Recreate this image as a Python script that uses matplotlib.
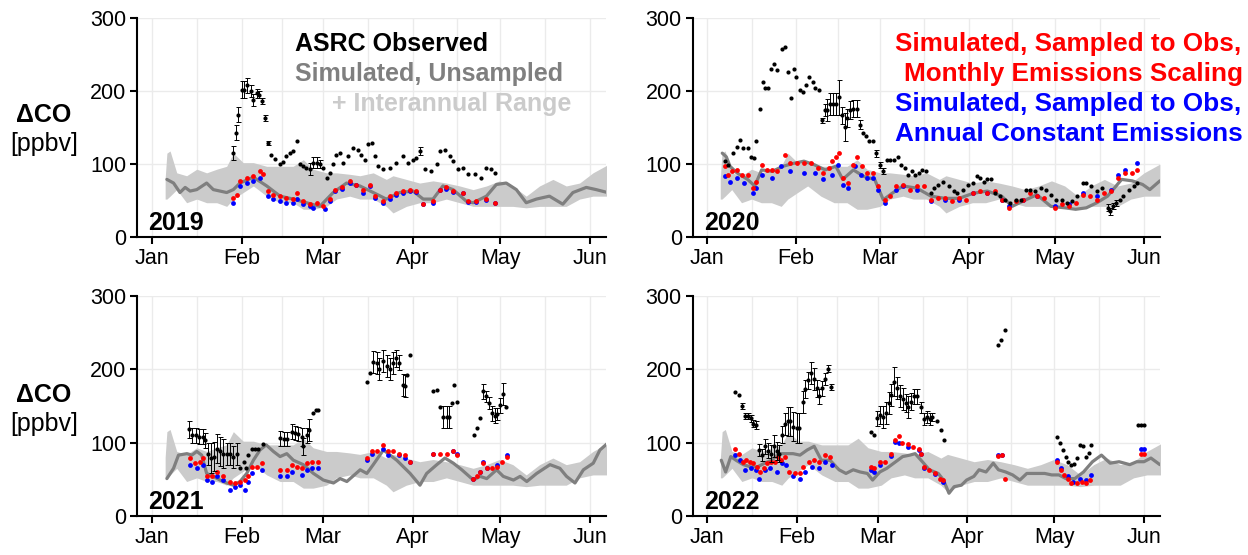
import numpy as np
import matplotlib

matplotlib.use("Agg")  # no display
import matplotlib.pyplot as plt

plt.rcParams["font.family"] = ["Liberation Sans", "DejaVu Sans"]

W, H = 1248, 555
YEARS = [2019, 2020, 2021, 2022]
MONTHS = ["Jan", "Feb", "Mar", "Apr", "May", "Jun"]

# all x values are days since Jan 1 of the panel's year

# interannual range of the unsampled simulation (same in every panel)
band_day = [4.6, 5.2, 6.3, 8.6, 12.0, 15.5, 18.9, 22.4, 25.8, 28.1, 31.5, 35.0, 39.6, 44.2,
            48.7, 52.2, 55.6, 60.2, 63.6, 68.2, 71.7, 76.3, 80.8, 83.1, 87.7, 92.3, 96.9,
            101.5, 106.1, 110.7, 115.3, 119.8, 124.4, 129.0, 133.6, 138.2, 142.8, 147.4,
            152.0, 157.5]
band_hi = [80, 115, 118, 88, 84, 93, 88, 93, 97, 115, 102, 102, 97, 97, 97, 106, 93, 88, 88,
           86, 84, 88, 79, 84, 79, 74, 77, 74, 70, 65, 70, 77, 70, 56, 70, 79, 70, 74, 88, 100]
band_lo = [52, 52, 56, 65, 47, 52, 47, 47, 42, 52, 61, 70, 56, 47, 47, 38, 38, 42, 52, 56, 52,
           52, 42, 33, 42, 47, 47, 52, 47, 42, 42, 42, 42, 40, 42, 42, 42, 52, 56, 56]

# ---- 2019 ----
uns_day_2019 = [5.2, 7.5, 9.7, 11.5, 13.2, 15.5, 18.9, 21.2, 23.5, 25.8, 28.1, 30.4, 35.0, 39.6,
                44.2, 48.7, 53.3, 57.9, 62.5, 67.1, 71.7, 76.3, 80.8, 85.4, 90.0, 93.5, 96.9,
                100.3, 103.8, 108.4, 110.7, 115.3, 118.7, 122.1, 125.6, 129.0, 132.5, 137.0,
                141.6, 145.1, 149.7, 153.1, 157.0]
uns_2019 = [79, 74, 61, 68, 63, 65, 74, 65, 63, 61, 65, 74, 82, 70, 56, 52, 47, 42, 61, 74, 70,
            61, 52, 61, 63, 52, 52, 70, 65, 49, 47, 56, 72, 74, 65, 47, 52, 56, 45, 61, 68, 65, 61]
red_day_2019 = [28.1, 29.2, 30.4, 32.7, 35.0, 37.3, 38.4, 40.1, 41.9, 44.2, 46.4, 48.7, 49.9,
                52.2, 54.5, 56.8, 59.1, 61.4, 63.1, 65.4, 68.2, 70.5, 72.8, 75.1, 76.8, 79.7,
                82.0, 84.3, 86.6, 88.9, 91.2, 93.5, 96.9, 99.2, 101.5, 103.8, 107.2, 108.9,
                111.8, 115.3, 118.1]
red_2019 = [54, 58, 77, 81, 84, 90, 86, 63, 58, 56, 54, 52, 61, 49, 45, 47, 42, 52, 65, 68, 77,
            72, 65, 72, 56, 49, 56, 61, 63, 65, 63, 45, 49, 65, 68, 63, 61, 49, 49, 52, 47]
blue_day_2019 = [28.1, 30.4, 32.7, 35.0, 37.3, 40.1, 41.9, 44.2, 46.4, 48.7, 49.9, 52.2, 54.5,
                 55.6, 59.6, 61.4, 63.1, 65.4, 68.2, 70.5, 72.8, 75.1, 76.8, 79.7, 82.0, 84.3,
                 86.6, 88.9, 91.2, 93.5, 96.9, 99.2, 101.5, 103.8, 107.2, 108.9, 111.8, 115.3,
                 118.1]
blue_2019 = [47, 70, 74, 77, 81, 56, 52, 49, 47, 47, 52, 45, 42, 40, 38, 50, 63, 66, 74, 72, 61,
             70, 54, 47, 52, 58, 60, 63, 62, 45, 47, 65, 66, 62, 61, 48, 48, 51, 46]
obs_day_2019 = [28.1, 29.0, 29.8, 31.0, 31.8, 32.9, 34.1, 35.0, 36.1, 37.0, 38.1, 39.0, 39.9,
                41.1, 42.4, 44.2, 45.3, 46.4, 47.6, 48.7, 49.9, 51.0, 52.2, 53.3, 54.5, 55.6,
                56.8, 57.9, 59.1, 60.2, 61.4, 62.5, 63.6, 64.8, 65.9, 67.7, 69.4, 71.1, 72.2,
                73.4, 74.5, 75.7, 76.8, 78.0, 79.7, 82.0, 84.3, 86.6, 88.3, 90.0, 91.2, 92.3,
                94.0, 96.3, 98.1, 99.2, 100.9, 102.6, 103.8, 105.5, 107.2, 108.9, 111.2, 113.5,
                115.3, 117.0, 118.1]
obs_2019 = [115, 143, 168, 202, 202, 208, 200, 188, 197, 195, 186, 163, 129, 112, 107, 100, 103,
            111, 115, 118, 131, 100, 97, 95, 93, 102, 102, 100, 95, 81, 88, 100, 113, 115, 102,
            111, 122, 120, 113, 106, 127, 129, 111, 97, 93, 95, 102, 111, 102, 106, 109, 118,
            93, 90, 100, 118, 120, 111, 104, 93, 95, 86, 86, 81, 95, 93, 88]
err_day_2019 = [28.1, 29.0, 29.8, 31.0, 31.8, 32.9, 34.1, 35.0, 36.1, 37.0, 38.1, 39.0, 39.9,
                54.5, 55.6, 56.8, 57.9, 92.3]
err_2019 = [10, 10, 10, 12, 12, 10, 8, 8, 6, 5, 4, 4, 3, 8, 8, 8, 6, 5]

# ---- 2020 ----
uns_day_2020 = [5.3, 6.7, 8.0, 10.4, 14.1, 16.6, 19.0, 22.7, 26.4, 30.1, 33.7, 37.4, 41.1, 44.8,
                47.2, 50.9, 54.6, 58.3, 61.3, 64.4, 68.1, 73.0, 77.9, 82.8, 87.7, 92.6, 97.5,
                102.5, 106.1, 109.8, 114.7, 119.6, 124.5, 128.2, 131.9, 135.6, 139.3, 144.2,
                147.9, 151.5, 154.0, 157.5]
uns_2020 = [115, 110, 97, 88, 79, 70, 92, 90, 97, 101, 104, 99, 92, 97, 79, 92, 83, 79, 51, 60,
            70, 67, 56, 53, 53, 60, 63, 56, 42, 49, 58, 42, 40, 38, 40, 47, 56, 79, 77, 72, 65, 77]
red_day_2020 = [6.1, 7.4, 8.6, 10.4, 12.3, 14.1, 16.0, 17.2, 19.0, 20.9, 22.7, 24.5, 27.0, 28.8,
                31.3, 33.7, 36.2, 38.7, 40.5, 42.3, 43.6, 44.8, 46.0, 47.2, 49.1, 50.9, 52.1,
                54.0, 55.8, 57.7, 59.5, 62.0, 63.8, 65.6, 68.1, 70.6, 73.0, 75.5, 77.9, 80.4,
                82.8, 85.3, 87.7, 90.2, 92.6, 95.1, 97.5, 100.0, 102.5, 104.9, 107.4, 109.8,
                112.3, 114.7, 117.2, 120.9, 123.3, 125.8, 128.2, 130.7, 133.1, 135.6, 138.0,
                140.5, 142.9, 145.4, 147.9, 149.7]
red_2020 = [97, 85, 90, 92, 85, 85, 67, 76, 99, 92, 92, 90, 113, 101, 101, 101, 101, 95, 88, 95,
            104, 110, 115, 81, 74, 99, 110, 97, 88, 88, 70, 51, 56, 70, 72, 65, 70, 70, 51, 53,
            53, 49, 53, 51, 60, 63, 60, 63, 51, 40, 49, 51, 60, 56, 53, 40, 45, 42, 47, 58, 56,
            51, 60, 63, 81, 88, 88, 92]
blue_day_2020 = [6.1, 8.0, 10.4, 12.9, 16.0, 17.2, 19.0, 22.7, 25.8, 28.8, 33.7, 37.4, 40.5,
                 43.6, 45.4, 47.2, 49.1, 51.5, 53.4, 55.8, 57.7, 59.5, 62.0, 65.6, 68.1, 73.0,
                 77.9, 82.8, 87.7, 92.6, 97.5, 102.5, 104.9, 109.8, 114.7, 120.9, 125.8, 130.7,
                 135.6, 140.5, 142.9, 145.4, 149.7]
blue_2020 = [83, 76, 81, 74, 60, 67, 85, 81, 97, 90, 88, 88, 79, 85, 99, 72, 67, 97, 85, 81, 81,
             65, 47, 65, 70, 65, 49, 51, 51, 60, 60, 51, 42, 51, 56, 42, 45, 60, 56, 65, 85, 92,
             101]
obs_day_2020 = [6.1, 7.4, 9.2, 10.4, 11.4, 12.6, 14.1, 15.3, 16.3, 17.2, 18.4, 19.4, 20.2, 21.2,
                22.1, 23.3, 24.5, 26.1, 27.0, 28.2, 29.2, 30.1, 31.0, 32.5, 33.5, 34.4, 35.6,
                36.8, 37.7, 38.9, 39.9, 40.9, 41.8, 42.9, 43.8, 44.8, 46.0, 47.0, 48.0, 48.7,
                49.7, 50.9, 52.1, 53.1, 54.1, 55.2, 56.4, 57.7, 58.9, 60.1, 61.3, 62.6,
                63.8, 65.0, 66.3, 67.5, 68.7, 69.9, 71.2, 72.4, 73.6, 74.8, 76.1, 77.9, 79.1,
                80.4, 82.2, 84.0, 85.9, 87.1, 89.0, 90.8, 92.6, 93.9, 95.1, 96.3, 97.5, 98.8,
                100.0, 101.8, 103.7, 105.5, 107.4, 109.2, 111.0, 112.3, 114.1, 116.0, 117.8,
                119.6, 121.5, 123.3, 125.2, 127.0, 128.8, 130.7, 131.9, 133.7, 135.6, 137.4,
                139.3, 140.2, 141.1, 142.3, 143.6, 144.8, 146.6, 148.5, 149.7]
obs_2020 = [104, 99, 115, 124, 133, 122, 122, 110, 108, 131, 176, 213, 204, 204, 231, 237, 229,
            258, 261, 226, 190, 230, 220, 201, 199, 208, 220, 213, 204, 201, 160, 174, 174, 183,
            183, 183, 192, 167, 151, 163, 174, 176, 176, 154, 142, 138, 131, 131, 115, 99, 90,
            106,
            106, 106, 110, 99, 95, 85, 90, 85, 88, 92, 90, 60, 67, 72, 76, 70, 63, 60, 65, 72,
            74, 83, 81, 76, 79, 79, 60, 56, 51, 47, 51, 51, 65, 65, 63, 67, 65, 58, 51, 51, 47,
            49, 56, 74, 74, 70, 63, 67, 40, 35, 42, 47, 51, 56, 65, 70, 74]
err_day_2020 = [39.9, 40.9, 41.8, 42.9, 43.8, 44.8, 46.0, 47.0, 48.0, 48.7, 49.7, 50.9, 52.1,
                53.1, 58.9, 60.1, 61.3, 139.3, 140.2, 141.1, 142.3]
err_2020 = [3, 8, 15, 15, 15, 15, 24, 12, 19, 12, 12, 12, 12, 6, 5, 4, 4, 5, 5, 4, 4]

# ---- 2021 ----
uns_day_2021 = [5.2, 7.5, 9.2, 12.1, 13.8, 15.5, 17.2, 18.9, 21.2, 23.5, 25.8, 28.1, 30.4, 32.7,
                35.0, 37.3, 39.4, 41.9, 44.2, 46.5, 48.8, 52.2, 55.7, 59.1, 62.6, 64.9, 67.2,
                71.8, 74.1, 76.3, 79.8, 82.1, 84.4, 86.7, 89.0, 92.4, 94.7, 98.2, 101.0, 103.9,
                106.8, 110.8, 113.1, 115.4, 118.8, 121.1, 124.6, 126.9, 129.2, 132.6, 137.2,
                140.6, 142.9, 145.8, 148.7, 152.1, 154.4, 157.0]
uns_2021 = [51, 65, 83, 85, 83, 88, 83, 58, 54, 49, 45, 42, 47, 58, 76, 90, 97, 88, 81, 85, 76,
            70, 58, 49, 45, 51, 47, 63, 58, 70, 90, 83, 76, 67, 58, 42, 58, 70, 79, 72, 63, 49,
            54, 51, 63, 54, 49, 54, 47, 58, 70, 65, 54, 45, 63, 72, 90, 99]
red_day_2021 = [13.2, 14.9, 16.6, 17.8, 18.9, 20.7, 22.4, 24.7, 27.0, 28.7, 30.4, 32.1, 33.3,
                34.4, 36.2, 37.9, 44.2, 46.5, 48.2, 49.9, 51.7, 53.4, 55.1, 57.4, 74.1, 75.8,
                77.5, 79.8, 81.5, 83.2, 85.0, 87.3, 89.0, 97.0, 99.3, 101.6, 103.9, 105.1,
                110.8, 111.9, 113.1, 114.2, 115.4, 117.1, 118.8, 120.6, 122.3]
red_2021 = [79, 72, 74, 79, 54, 54, 60, 54, 47, 45, 47, 49, 54, 67, 67, 72, 63, 63, 70, 67, 65,
            72, 74, 74, 79, 88, 88, 97, 88, 88, 85, 83, 74, 85, 84, 84, 88, 83, 51, 54, 60, 72,
            65, 65, 67, 74, 81]
blue_day_2021 = [13.2, 15.5, 17.8, 18.9, 20.7, 22.4, 24.7, 27.0, 28.7, 30.4, 32.1, 33.3, 34.4,
                 37.9, 44.2, 46.5, 48.2, 51.7, 53.4, 55.1, 57.4, 74.1, 75.8, 79.8, 81.5, 85.0,
                 87.3, 89.0, 97.0, 103.9, 105.1, 110.8, 113.1, 114.2, 115.4, 118.8, 122.3]
blue_2021 = [70, 65, 70, 49, 47, 54, 49, 36, 40, 42, 35, 47, 58, 63, 54, 54, 60, 56, 63, 65, 65,
             76, 85, 92, 83, 83, 79, 73, 85, 88, 84, 51, 60, 73, 65, 70, 83]
obs_day_2021 = [12.9, 14.0, 15.2, 16.3, 17.5, 18.4, 19.2, 20.3, 21.5, 22.4, 23.5, 24.7, 25.8,
                27.0, 28.1, 29.3, 30.4, 31.6, 32.5, 33.3, 34.4, 35.6, 36.7, 38.2, 44.2, 45.4,
                46.5, 48.2, 49.4, 50.5, 51.7, 52.2, 53.4, 54.3, 55.5, 56.6, 57.4, 74.1, 75.2,
                76.3, 77.5, 78.4, 79.8, 80.9, 82.1, 83.2, 84.2, 85.3, 86.5, 87.3, 88.1, 89.0,
                97.0, 98.2, 99.3, 100.5, 101.6, 102.5, 103.3, 104.1, 105.1, 111.0, 111.9, 113.1,
                114.2, 115.2, 116.2, 117.1, 118.3, 119.1, 120.0, 120.9, 122.0]
obs_2021 = [118, 110, 110, 108, 108, 103, 85, 79, 81, 92, 88, 85, 84, 85, 81, 85, 66, 73, 65, 83,
            92, 92, 91, 98, 106, 105, 105, 115, 113, 112, 108, 95, 110, 117, 140, 145, 145, 183,
            195, 210, 209, 201, 212, 205, 201, 208, 215, 209, 179, 177, 192, 220, 170, 172, 149,
            135, 135, 135, 154, 179, 156, 110, 120, 134, 170, 163, 154, 140, 137, 139, 151, 167,
            149]
err_day_2021 = [12.9, 14.0, 15.2, 16.3, 17.5, 18.4, 19.2, 20.3, 21.5, 22.4, 23.5, 24.7, 25.8,
                27.0, 28.1, 29.3, 44.2, 45.4, 46.5, 48.2, 49.4, 50.5, 51.7, 52.2, 53.4, 54.3,
                76.3, 77.5, 78.4, 79.8, 80.9, 82.1, 83.2, 84.2, 85.3, 86.5, 87.3, 100.5, 101.6,
                102.5, 114.2, 115.2, 116.2, 117.1, 118.3, 119.1, 120.0, 120.9]
err_2021 = [12, 10, 10, 10, 10, 10, 15, 20, 20, 20, 20, 20, 15, 15, 15, 15, 10, 10, 10, 10, 10,
            10, 12, 12, 10, 15, 15, 15, 15, 15, 15, 15, 15, 12, 10, 15, 15, 15, 15, 15, 10, 8, 8,
            10, 10, 8, 10, 15]

# ---- 2022 ----
uns_day_2022 = [4.9, 6.4, 8.2, 10.0, 12.5, 15.0, 17.4, 19.9, 22.3, 24.8, 27.2, 29.7, 32.1, 34.6,
                37.0, 39.5, 42.5, 45.6, 48.0, 50.5, 52.9, 55.4, 57.2, 59.7, 62.1, 65.2, 67.6,
                70.1, 71.9, 74.4, 76.8, 79.9, 81.7, 83.6, 85.4, 87.9, 89.7, 92.2, 94.0, 96.4,
                98.9, 100.7, 103.2, 105.6, 108.1, 110.5, 114.2, 116.7, 119.1, 121.6, 124.0,
                127.1, 130.1, 133.2, 136.3, 139.3, 142.4, 146.1, 148.5, 151.0, 153.4, 156.5]
uns_2022 = [76, 60, 81, 76, 70, 67, 67, 72, 76, 85, 85, 85, 83, 90, 95, 76, 76, 63, 58, 63, 60,
            58, 49, 60, 65, 74, 81, 83, 85, 74, 63, 58, 49, 31, 40, 42, 49, 54, 63, 60, 72, 63,
            60, 56, 49, 58, 58, 58, 56, 56, 51, 51, 60, 74, 83, 72, 74, 70, 74, 74, 79, 70]
red_day_2022 = [9.8, 11.0, 12.3, 13.5, 14.7, 15.9, 17.2, 18.4, 19.6, 20.8, 22.1, 23.3, 24.5,
                25.7, 27.0, 28.4, 30.3, 32.1, 33.3, 35.2, 37.0, 38.8, 40.7, 42.5, 56.6, 57.8,
                59.7, 61.5, 63.4, 65.0, 66.2, 67.4, 69.5, 71.3, 73.2, 74.0, 75.0, 76.8, 78.7,
                80.5, 81.7, 100.7, 102.0, 102.8, 121.0, 122.2, 123.4, 124.6, 125.9, 127.7, 129.5,
                131.1, 132.4, 149.8, 151.0]
red_2022 = [92, 85, 74, 76, 74, 72, 67, 60, 65, 72, 74, 74, 81, 76, 81, 60, 59, 59, 67, 74, 76,
            74, 83, 81, 67, 65, 74, 74, 85, 104, 109, 100, 98, 94, 92, 85, 67, 63, 58, 51, 49,
            82, 83, 51, 74, 63, 56, 51, 45, 45, 47, 45, 49, 85, 85]
blue_day_2022 = [9.8, 11.3, 13.1, 15.0, 16.8, 18.0, 19.9, 21.7, 24.1, 26.0, 27.2, 29.7, 32.1,
                 33.9, 36.4, 38.8, 40.7, 43.1, 56.6, 57.8, 59.7, 63.4, 65.0, 66.4, 69.5, 73.2,
                 74.0, 75.0, 78.7, 81.7, 100.7, 102.0, 121.0, 122.2, 124.6, 126.5, 128.9, 131.1,
                 132.8, 149.8, 151.0]
blue_2022 = [83, 76, 63, 65, 63, 50, 63, 65, 60, 72, 70, 54, 51, 60, 67, 65, 74, 70, 63, 60, 70,
             82, 101, 99, 94, 90, 85, 65, 57, 47, 83, 83, 76, 65, 54, 47, 51, 49, 56, 91, 91]
obs_day_2022 = [9.8, 11.0, 12.1, 13.1, 14.1, 15.0, 15.8, 16.8, 18.0, 19.0, 20.0, 21.1, 22.1,
                23.0, 24.0, 24.9, 25.9, 26.8, 27.8, 28.8, 29.7, 30.9, 31.9, 33.0, 33.8, 34.8,
                35.8, 36.8, 37.9, 38.8, 39.8, 40.9, 41.9, 42.9, 56.6, 57.8, 58.8, 59.8, 60.8,
                61.8, 62.7, 63.7, 64.7, 65.7, 66.7, 67.6, 68.6, 69.6, 70.6, 71.6, 72.5, 73.8,
                75.0, 76.0, 77.0, 77.9, 79.3, 80.9, 81.9, 100.7, 101.7, 102.8, 121.0, 121.9,
                122.9, 123.9, 124.9, 125.9, 126.8, 127.8, 128.8, 129.8, 131.0, 132.0, 132.8,
                148.8, 149.8, 151.0]
obs_2022 = [169, 165, 150, 136, 136, 133, 126, 124, 90, 83, 95, 89, 85, 96, 89, 85, 111, 126,
            129, 129, 122, 120, 120, 156, 173, 185, 195, 187, 174, 163, 174, 187, 201, 176, 114,
            110, 133, 138, 135, 140, 154, 165, 183, 174, 163, 160, 154, 148, 156, 163, 163, 148,
            132, 135, 132, 135, 130, 117, 104, 233, 240, 253, 108, 99, 90, 81, 74, 70, 71, 79,
            97, 95, 81, 86, 97, 124, 124, 124]
err_day_2022 = [12.1, 13.1, 14.1, 15.0, 15.8, 16.8, 18.0, 19.0, 20.0, 21.1, 22.1, 23.0, 24.0,
                24.9, 25.9, 26.8, 27.8, 28.8, 29.7, 30.9, 31.9, 33.0, 33.8, 34.8, 35.8, 36.8,
                37.9, 38.8, 39.8, 40.9, 41.9, 42.9, 58.8, 59.8, 60.8, 61.8, 62.7, 63.7, 64.7,
                65.7, 66.7, 67.6, 68.6, 69.6, 70.6, 71.6, 72.5, 73.8, 75.0, 76.0, 77.0, 77.9]
err_2022 = [4, 4, 4, 5, 5, 5, 8, 8, 10, 10, 12, 15, 12, 12, 12, 15, 20, 20, 20, 20, 20, 15, 12,
            12, 15, 15, 12, 10, 10, 8, 5, 4, 10, 12, 15, 15, 15, 15, 20, 15, 15, 15, 12, 15, 12,
            10, 10, 8, 8, 8, 8, 5]

PANELS = {
    2019: (uns_day_2019, uns_2019, red_day_2019, red_2019, blue_day_2019, blue_2019,
           obs_day_2019, obs_2019, err_day_2019, err_2019),
    2020: (uns_day_2020, uns_2020, red_day_2020, red_2020, blue_day_2020, blue_2020,
           obs_day_2020, obs_2020, err_day_2020, err_2020),
    2021: (uns_day_2021, uns_2021, red_day_2021, red_2021, blue_day_2021, blue_2021,
           obs_day_2021, obs_2021, err_day_2021, err_2021),
    2022: (uns_day_2022, uns_2022, red_day_2022, red_2022, blue_day_2022, blue_2022,
           obs_day_2022, obs_2022, err_day_2022, err_2022),
}

# axes boxes in figure fractions
POS = {
    2019: [0.110, 0.573, 0.3756, 0.394],
    2020: [0.555, 0.573, 0.3744, 0.394],
    2021: [0.110, 0.0703, 0.3756, 0.3964],
    2022: [0.555, 0.0703, 0.3744, 0.3964],
}

BAND_C = "#cbcbcb"
LINE_C = "#7f7f7f"
GRID_C = "#ebebeb"


def month_starts(year):
    jan1 = np.datetime64(f"{year}-01-01")
    return np.array([(np.datetime64(f"{year}-{m:02d}-01") - jan1).astype(int) for m in range(1, 7)])


def draw_panel(ax, year):
    uday, uns, rday, red, bday, blue, oday, obs, eday, err = PANELS[year]
    oday = np.asarray(oday)
    obs = np.asarray(obs)

    ax.fill_between(band_day, band_lo, band_hi, color=BAND_C, lw=0, zorder=1)
    ax.plot(uday, uns, color=LINE_C, lw=2.3, zorder=2, solid_capstyle="round")
    ax.scatter(bday, blue, s=12, color="#0000ff", lw=0, zorder=3)
    ax.scatter(rday, red, s=12, color="#ff0000", lw=0, zorder=3)

    # error bars only on the observations that have them
    idx = np.abs(np.subtract.outer(np.asarray(eday), oday)).argmin(axis=1)
    ax.errorbar(oday[idx], obs[idx], yerr=err, fmt="none", ecolor="black",
                elinewidth=0.7, capsize=1.8, capthick=0.7, zorder=4)
    ax.scatter(oday, obs, s=9, color="black", lw=0, zorder=5)

    starts = month_starts(year)
    ax.set_xlim(-5, starts[-1] + 5.5)
    ax.set_ylim(0, 300)
    ax.set_xticks(starts)
    ax.set_xticklabels(MONTHS)
    ax.set_xticks((starts[:-1] + starts[1:]) / 2, minor=True)
    ax.set_yticks([0, 100, 200, 300])

    ax.set_axisbelow(True)
    ax.grid(which="major", color=GRID_C, lw=1.0)
    ax.grid(which="minor", axis="x", color=GRID_C, lw=1.0)
    for side in ["top", "right"]:
        ax.spines[side].set_visible(False)
    for side in ["left", "bottom"]:
        ax.spines[side].set_linewidth(1.5)
    ax.tick_params(which="major", length=4.8, width=1.5, labelsize=15.5, pad=3)
    ax.tick_params(which="minor", length=0)

    ax.text(0.024, 0.032, str(year), transform=ax.transAxes, fontsize=18,
            fontweight="bold", ha="left", va="baseline")


def fig_text(fig, px, py, s, **kw):
    fig.text(px / W, 1 - py / H, s, **kw)


fig = plt.figure(figsize=(W / 100, H / 100), dpi=100)
for year in YEARS:
    ax = fig.add_axes(POS[year])
    draw_panel(ax, year)

# y axis titles
for row_off in [0, 280]:
    fig_text(fig, 44, 121.7 + row_off, "ΔCO", fontsize=18, fontweight="bold",
             ha="center", va="baseline")
    fig_text(fig, 44, 151.3 + row_off, "[ppbv]", fontsize=18, ha="center", va="baseline")

# legend texts
fig_text(fig, 295, 50.7, "ASRC Observed", fontsize=18, fontweight="bold",
         color="black", ha="left", va="baseline")
fig_text(fig, 295, 80.7, "Simulated, Unsampled", fontsize=18, fontweight="bold",
         color=LINE_C, ha="left", va="baseline")
fig_text(fig, 332, 110.7, "+ Interannual Range", fontsize=18, fontweight="bold",
         color=BAND_C, ha="left", va="baseline")

fig_text(fig, 1241, 50.5, "Simulated, Sampled to Obs,", fontsize=18.8, fontweight="bold",
         color="#ff0000", ha="right", va="baseline")
fig_text(fig, 1243, 80.5, "Monthly Emissions Scaling", fontsize=18.8, fontweight="bold",
         color="#ff0000", ha="right", va="baseline")
fig_text(fig, 1241, 111, "Simulated, Sampled to Obs,", fontsize=18.8, fontweight="bold",
         color="#0000ff", ha="right", va="baseline")
fig_text(fig, 1243, 141, "Annual Constant Emissions", fontsize=18.8, fontweight="bold",
         color="#0000ff", ha="right", va="baseline")

fig.savefig("out.png", dpi=100)
